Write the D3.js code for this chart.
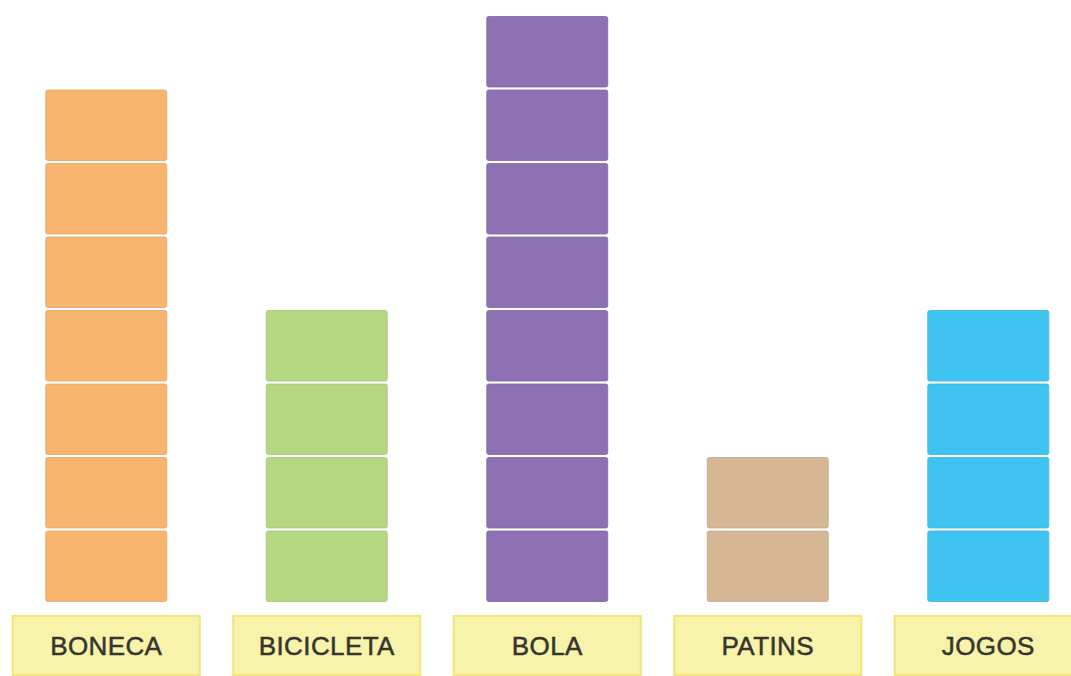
<!DOCTYPE html>
<html>
<head>
<meta charset="utf-8">
<script src="https://cdn.jsdelivr.net/npm/d3@7"></script>
<style>
  body { margin: 0; background: #fff; }
  svg { display: block; }
</style>
</head>
<body>
<svg id="chart" width="1071" height="676"></svg>
<script>
// brinquedos preferidos
const categories = ["BONECA", "BICICLETA", "BOLA", "PATINS", "JOGOS"];
const counts = [7, 4, 8, 2, 4];
const colors = ["#f9b46f", "#b6d781", "#8e71b2", "#d5b795", "#3fc4f1"];
const maxCount = 8;

const svg = d3.select("#chart");

// x: uma faixa por categoria (a faixa é a largura da etiqueta)
const x = d3.scaleBand()
  .domain(categories)
  .range([-4, 1098.5])
  .paddingInner(0.152)
  .paddingOuter(0.076);

// y: cada unidade é um bloco
const y = d3.scaleLinear()
  .domain([0, maxCount])
  .range([603, 15]);

const blockW = 121;
const gap = 3;

const cols = svg.selectAll(".col")
  .data(categories.map((c, i) => ({ cat: c, n: counts[i], color: colors[i] })))
  .enter().append("g")
  .attr("class", "col")
  .attr("transform", d => `translate(${x(d.cat) + x.bandwidth() / 2},0)`);

// blocos empilhados
cols.selectAll(".block")
  .data(d => d3.range(d.n).map(k => ({ k, color: d.color })))
  .enter().append("rect")
  .attr("class", "block")
  .attr("x", -blockW / 2)
  .attr("y", d => y(d.k + 1) + gap / 2)
  .attr("width", blockW)
  .attr("height", d => y(d.k) - y(d.k + 1) - gap)
  .attr("rx", 2)
  .attr("fill", d => d.color)
  .attr("stroke", d => d3.color(d.color).darker(0.25))
  .attr("stroke-width", 0.8);

// etiquetas amarelas
const labelTop = 616;
cols.append("rect")
  .attr("x", -x.bandwidth() / 2)
  .attr("y", labelTop)
  .attr("width", x.bandwidth())
  .attr("height", 59)
  .attr("fill", "#f8f3aa")
  .attr("stroke", "#f1e575")
  .attr("stroke-width", 2);

cols.append("text")
  .attr("x", 0)
  .attr("y", 655)
  .attr("text-anchor", "middle")
  .attr("font-family", "Liberation Sans, Arial, sans-serif")
  .attr("font-size", 26)
  .attr("letter-spacing", 0.4)
  .attr("fill", "#34362e")
  .attr("stroke", "#34362e")
  .attr("stroke-width", 0.5)
  .text(d => d.cat);
</script>
</body>
</html>
